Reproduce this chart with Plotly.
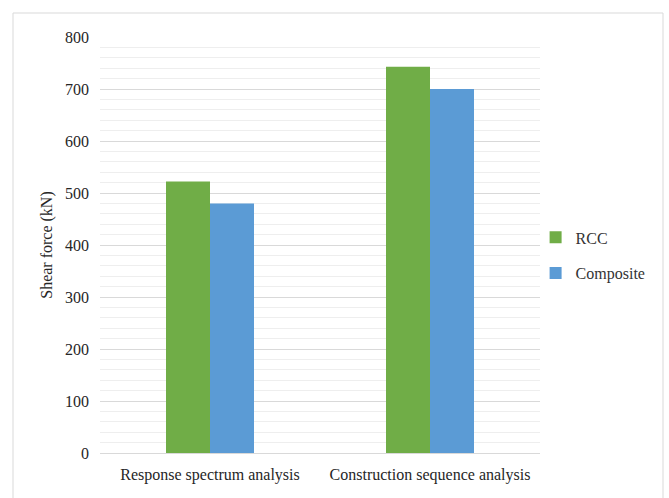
import plotly.graph_objects as go

categories = ["Response spectrum analysis", "Construction sequence analysis"]
rcc = [522, 743]
composite = [480, 700]
series_names = ["RCC", "Composite"]
colors = ["#70ad47", "#5b9bd5"]

FONT = "Liberation Serif, Times New Roman, serif"

fig = go.Figure()
fig.add_trace(go.Bar(x=categories, y=rcc, name=series_names[0],
                     marker=dict(color=colors[0], line=dict(width=0)),
                     legendgroup="a"))
fig.add_trace(go.Bar(x=categories, y=composite, name=series_names[1],
                     marker=dict(color=colors[1], line=dict(width=0)),
                     legendgroup="b"))

fig.update_layout(
    width=669, height=498,
    margin=dict(l=100, r=129, t=37, b=45, autoexpand=False),
    paper_bgcolor="white", plot_bgcolor="white",
    font=dict(family=FONT, size=16, color="#333333"),
    barmode="group", bargap=0.6, bargroupgap=0,
    showlegend=True,
    legend=dict(x=0.99, y=0.475, xanchor="left", yanchor="middle",
                font=dict(family=FONT, size=16, color="#333333"),
                traceorder="grouped", tracegroupgap=12,
                bgcolor="rgba(0,0,0,0)", itemwidth=30),
    xaxis=dict(showgrid=False, showline=False, ticks="", zeroline=False,
               ticklabelstandoff=10,
               tickfont=dict(family=FONT, size=16, color="#262626")),
    yaxis=dict(range=[0, 800], dtick=100, showgrid=True, gridcolor="#d9d9d9",
               gridwidth=1, zeroline=True, zerolinecolor="#d9d9d9", zerolinewidth=1,
               showline=False, ticks="", ticklabelstandoff=10,
               tickfont=dict(family=FONT, size=16, color="#262626"),
               minor=dict(dtick=20, showgrid=True, gridcolor="#eeeeee", gridwidth=1),
               title=dict(text="Shear force (kN)", standoff=8,
                          font=dict(family=FONT, size=16, color="#262626"))),
    shapes=[dict(type="rect", xref="paper", yref="paper",
                 x0=(13 - 100) / 440, x1=(663 - 100) / 440,
                 y0=-0.12, y1=(453 - 13) / 416,
                 line=dict(color="#d9d9d9", width=1), fillcolor="rgba(0,0,0,0)",
                 layer="below")],
)

fig.write_html("out.html")
